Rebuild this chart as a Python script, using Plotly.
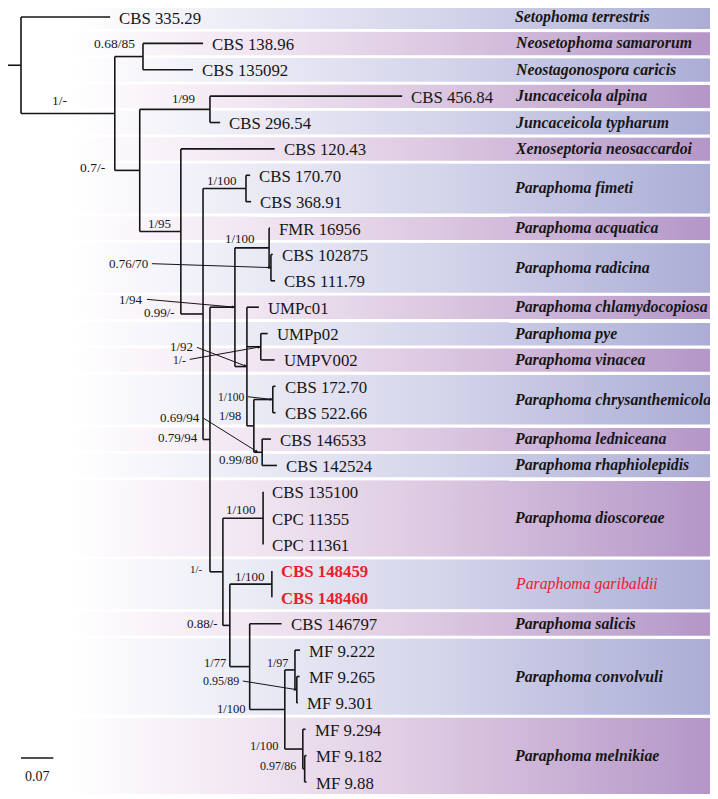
import math
import plotly.graph_objects as go

# ---------------- data ----------------
TIP_NAMES = ["CBS 335.29", "CBS 138.96", "CBS 135092", "CBS 456.84", "CBS 296.54",
             "CBS 120.43", "CBS 170.70", "CBS 368.91", "FMR 16956", "CBS 102875",
             "CBS 111.79", "UMPc01", "UMPp02", "UMPV002", "CBS 172.70",
             "CBS 522.66", "CBS 146533", "CBS 142524", "CBS 135100", "CPC 11355",
             "CPC 11361", "CBS 148459", "CBS 148460", "CBS 146797", "MF 9.222",
             "MF 9.265", "MF 9.301", "MF 9.294", "MF 9.182", "MF 9.88"]
TIP_PARENT = ["root", "C", "C", "E", "E", "F", "H", "H", "K", "L",
              "L", "M", "P", "P", "R", "R", "T", "T", "V", "V",
              "V", "X", "X", "Y", "AA", "AC", "AC", "AB", "AD", "AD"]
TIP_BL = [0.193, 0.130, 0.108, 0.416, 0.022, 0.203, 0.009, 0.011, 0.002, 0.004,
          0.009, 0.026, 0.015, 0.030, 0.006, 0.006, 0.019, 0.032, 0.0, 0.0,
          0.0, 0.0, 0.0, 0.069, 0.011, 0.006, 0.002, 0.006, 0.004, 0.004]

NODE_NAMES = ["root", "B", "C", "D", "E", "F", "G", "H", "I", "J", "K", "L", "M", "P",
              "Q", "R", "S", "T", "U", "V", "W", "X", "Y", "Z", "AA", "AC", "AB", "AD"]
NODE_PARENT = [None, "root", "B", "B", "D", "D", "F", "G", "G", "I", "J", "K", "J", "M",
               "M", "Q", "Q", "S", "I", "U", "U", "W", "W", "Y", "Z", "AA", "Z", "AB"]
NODE_BL = [0.0, 0.203, 0.061, 0.054, 0.152, 0.089, 0.048, 0.093, 0.015, 0.054, 0.074, 0.004,
           0.026, 0.030, 0.015, 0.041, 0.009, 0.009, 0.028, 0.087, 0.015, 0.091, 0.043,
           0.076, 0.022, 0.004, 0.039, 0.004]
NODE_SUPPORT = ["", "1/-", "0.68/85", "0.7/-", "1/99", "1/95", "0.99/-", "1/100", "0.79/94",
                "1/94", "1/100", "0.76/70", "1/92", "1/-", "1/98", "1/100", "0.69/94",
                "0.99/80", "1/-", "1/100", "0.88/-", "1/100", "1/77", "1/100", "1/97",
                "0.95/89", "1/100", "0.97/86"]

SPECIES = ["Setophoma terrestris", "Neosetophoma samarorum", "Neostagonospora caricis",
           "Juncaceicola alpina", "Juncaceicola typharum", "Xenoseptoria neosaccardoi",
           "Paraphoma fimeti", "Paraphoma acquatica", "Paraphoma radicina",
           "Paraphoma chlamydocopiosa", "Paraphoma pye", "Paraphoma vinacea",
           "Paraphoma chrysanthemicola", "Paraphoma ledniceana", "Paraphoma rhaphiolepidis",
           "Paraphoma dioscoreae", "Paraphoma garibaldii", "Paraphoma salicis",
           "Paraphoma convolvuli", "Paraphoma melnikiae"]
SPECIES_COUNTS = [1, 1, 1, 1, 1, 1, 2, 1, 2, 1, 1, 1, 2, 1, 1, 3, 2, 1, 3, 3]

HIGHLIGHT_SPECIES = "Paraphoma garibaldii"
HIGHLIGHT_TIPS = ["CBS 148459", "CBS 148460"]
SCALE_LENGTH = 0.07

# ---------------- styling ----------------
OFF = 8               # page offset of the plot div (body margin)
W, H = 718 - OFF, 799 - OFF
PX_X = 462.0          # pixels per substitution unit
PX_Y = 26.38          # pixels per tip row
X_MIN = -(21 - OFF) / PX_X
X_MAX = X_MIN + W / PX_X
Y_MIN = -(17 - OFF) / PX_Y
Y_MAX = Y_MIN + H / PX_Y


def page_x(p):
    return X_MIN + (p - OFF) / PX_X


def page_y(p):
    return Y_MIN + (p - OFF) / PX_Y


SERIF = "Liberation Serif, Times New Roman, serif"
INK = "#161616"
RED = "#e8202a"
BLUE_SCALE = [[0, "#ffffff"], [0.1, "#ffffff"], [0.35, "#ebebf6"], [0.61, "#d5d5eb"], [1, "#aaacd5"]]
PINK_SCALE = [[0, "#ffffff"], [0.1, "#ffffff"], [0.35, "#f1e6f2"], [0.61, "#dcc8e1"], [1, "#b395c7"]]

# mode, dx(px), dy(px, down positive), font size
LABEL_STYLE = {
    "B": ("branch", -8, -13, 13.5), "C": ("node", -6, -13, 13.5), "D": ("parent", -7, -3, 13.5),
    "E": ("node", -13, -11, 13), "F": ("node", -8, -8, 13), "G": ("parent", -4, -1, 13),
    "H": ("node", -7, -8, 13), "I": ("parent", -3, -2, 13), "J": ("arrow", -90, -8, 13),
    "K": ("node", -12, -9, 13), "L": ("arrow", -121, -4, 13), "M": ("arrow", -52, -20, 13),
    "P": ("arrow", -73, 13, 11.5), "Q": ("parent", -4, -10, 12.5), "R": ("arrow", -27, -3, 11.5),
    "S": ("arrow", -56, -35, 13), "T": ("node", -2, 7, 13), "U": ("parent", -5, -3, 11),
    "V": ("node", -5, -9, 13), "W": ("parent", -3, -2, 13), "X": ("node", -5, -8, 13),
    "Y": ("parent", -2, -4, 12.5), "Z": ("parent", -3, 0, 12.5), "AA": ("node", -5, -7, 12),
    "AC": ("arrow", -56, -9, 12), "AB": ("parent", -5, -3, 12.5), "AD": ("parent", -5, -3, 12),
}

# ---------------- tree layout ----------------
parent, blen = {}, {}
for n, p, b in zip(NODE_NAMES, NODE_PARENT, NODE_BL):
    parent[n], blen[n] = p, b
for n, p, b in zip(TIP_NAMES, TIP_PARENT, TIP_BL):
    parent[n], blen[n] = p, b
children = {n: [] for n in NODE_NAMES}
for n in NODE_NAMES[1:] + TIP_NAMES:
    children[parent[n]].append(n)

X = {}


def set_x(n, x0):
    X[n] = x0
    for c in children.get(n, []):
        set_x(c, x0 + blen[c])


set_x("root", 0.0)

Y = {t: i for i, t in enumerate(TIP_NAMES)}


def set_y(n):
    if n in Y:
        return Y[n]
    ys = [set_y(c) for c in children[n]]
    Y[n] = (min(ys) + max(ys)) / 2
    return Y[n]


set_y("root")

fig = go.Figure()

# ---------------- species bands ----------------
band_left = page_x(0)
band_right = page_x(716)
rx, ry = 6 / PX_X, 6 / PX_Y
gap = 1.3 / PX_Y
start = 0
annotations = []
for k, (sp, cnt) in enumerate(zip(SPECIES, SPECIES_COUNTS)):
    y0 = start - 0.5 + gap
    y1 = start + cnt - 1 + 0.5 - gap
    start += cnt
    xs, ys = [band_left], [y0]
    cx, cy = band_right - rx, y0 + ry
    for j in range(11):
        th = math.pi / 2 - j * (math.pi / 2) / 10
        xs.append(cx + rx * math.cos(th)); ys.append(cy - ry * math.sin(th))
    cx, cy = band_right - rx, y1 - ry
    for j in range(11):
        th = -j * (math.pi / 2) / 10
        xs.append(cx + rx * math.cos(th)); ys.append(cy - ry * math.sin(th))
    xs += [band_left, band_left]; ys += [y1, y0]
    fig.add_trace(go.Scatter(
        x=xs, y=ys, mode="lines", line=dict(width=0), fill="toself",
        fillgradient=dict(type="horizontal", colorscale=BLUE_SCALE if k % 2 == 0 else PINK_SCALE,
                          start=band_left, stop=band_right),
        hoverinfo="skip", showlegend=False))
    hl = sp == HIGHLIGHT_SPECIES
    annotations.append(dict(
        x=page_x(513), y=(y0 + y1) / 2, xanchor="left", yanchor="middle",
        text=f"<i>{sp}</i>" if hl else f"<b><i>{sp}</i></b>", showarrow=False,
        font=dict(family=SERIF, size=15.8, color=RED if hl else INK)))

# ---------------- branches ----------------
lx, ly = [X_MIN, 0.0, None], [Y["root"], Y["root"], None]
for n in NODE_NAMES[1:] + TIP_NAMES:
    lx += [X[parent[n]], X[n], None]
    ly += [Y[n], Y[n], None]
for n in NODE_NAMES:
    cy = [Y[c] for c in children[n]]
    lx += [X[n], X[n], None]
    ly += [min(cy), max(cy), None]
fig.add_trace(go.Scatter(x=lx, y=ly, mode="lines", line=dict(color=INK, width=1.6),
                         hoverinfo="skip", showlegend=False))

# ---------------- tip labels ----------------
for t in TIP_NAMES:
    hl = t in HIGHLIGHT_TIPS
    annotations.append(dict(
        x=X[t], y=Y[t], xanchor="left", yanchor="middle", xshift=7, yshift=-1,
        text=f"<b>{t}</b>" if hl else t, showarrow=False,
        font=dict(family=SERIF, size=16.8, color=RED if hl else INK)))

# ---------------- support values ----------------
for n, s in zip(NODE_NAMES, NODE_SUPPORT):
    if not s:
        continue
    mode, ddx, ddy, fs = LABEL_STYLE[n]
    font = dict(family=SERIF, size=fs, color=INK)
    if mode == "arrow":
        annotations.append(dict(
            x=X[n], y=Y[n], ax=ddx, ay=ddy, text=s, showarrow=True, xanchor="right",
            yanchor="middle", arrowhead=2, arrowsize=0.6, arrowwidth=1, arrowcolor=INK,
            standoff=0, startstandoff=2, font=font))
    elif mode == "branch":
        annotations.append(dict(
            x=(X[parent[n]] + X[n]) / 2, y=Y[n], xanchor="center", yanchor="middle",
            xshift=ddx, yshift=-ddy, text=s, showarrow=False, font=font))
    else:
        ax_ = X[n] if mode == "node" else X[parent[n]]
        annotations.append(dict(
            x=ax_, y=Y[n], xanchor="right", yanchor="middle",
            xshift=ddx, yshift=-ddy, text=s, showarrow=False, font=font))

# ---------------- scale bar ----------------
SCALE_Y = page_y(758)
fig.add_trace(go.Scatter(x=[0, SCALE_LENGTH], y=[SCALE_Y, SCALE_Y], mode="lines",
                         line=dict(color=INK, width=1.6), hoverinfo="skip", showlegend=False))
annotations.append(dict(x=SCALE_LENGTH / 2, y=SCALE_Y, yshift=-18, text=f"{SCALE_LENGTH}",
                        showarrow=False, xanchor="center", yanchor="middle",
                        font=dict(family=SERIF, size=14, color=INK)))

fig.update_layout(
    width=W, height=H, margin=dict(l=0, r=0, t=0, b=0),
    paper_bgcolor="white", plot_bgcolor="white", showlegend=False,
    xaxis=dict(range=[X_MIN, X_MAX], visible=False, fixedrange=True),
    yaxis=dict(range=[Y_MAX, Y_MIN], visible=False, fixedrange=True),
    annotations=annotations)

fig.write_html("out.html")
